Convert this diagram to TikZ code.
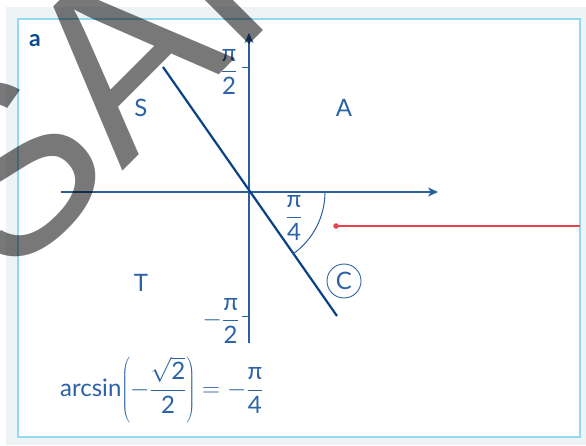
\documentclass[tikz,border=0pt]{standalone}
\usepackage{fontspec}
\setmainfont{Lato}
\newfontfamily\wmfont{Liberation Sans}
\usetikzlibrary{arrows.meta}
\definecolor{bggray}{HTML}{EEF3F6}
\definecolor{frameblue}{HTML}{93D8F5}
\definecolor{axisblue}{HTML}{2A5E9C}
\definecolor{linenavy}{HTML}{0B4283}
\definecolor{labelblue}{HTML}{2B63A6}
\definecolor{boldblue}{HTML}{0D4A8C}
\definecolor{dotred}{HTML}{E8434A}
\begin{document}
\begin{tikzpicture}[x=1pt,y=1pt,
  axis/.style={draw=axisblue, line width=1.1pt},
  axisarrow/.style={axis, -{Stealth[length=10pt,width=9pt,inset=3pt]}},
  tick/.style={draw=axisblue, line width=1pt},
  lbl/.style={text=labelblue, font=\fontsize{24}{28}\selectfont, inner sep=0pt},
  wm/.style={font=\wmfont\fontsize{240}{240}\selectfont, text=black, text opacity=0.53, inner sep=0pt}]
\useasboundingbox (0,0) rectangle (586,445);
% background and frame
\fill[bggray] (6,0) rectangle (586,438);
\draw[frameblue, line width=1.5pt, fill=white] (18,8) rectangle (580,426);
% axes
\coordinate (O) at (249,253);
\coordinate (xs) at (61,253);
\coordinate (xe) at (438,253);
\coordinate (ys) at (249,102);
\coordinate (ye) at (249,412);
\draw[axisarrow] (xs) -- (xe);
\draw[axisarrow] (ys) -- (ye);
% ticks
\coordinate (tpa) at (242,377); \coordinate (tpb) at (249,377);
\coordinate (tma) at (242,129); \coordinate (tmb) at (249,129);
\draw[tick] (tpa) -- (tpb);
\draw[tick] (tma) -- (tmb);
% tick labels
\node[lbl] (lpi2) at (229,373) {$\displaystyle\frac{\mbox{π}}{\mbox{2}}$};
\node[lbl] (lmpi2) at (221,124) {$\displaystyle-\frac{\mbox{π}}{\mbox{2}}$};
% main line
\coordinate (La) at (163,378);
\coordinate (Lb) at (337,129);
\draw[linenavy, line width=2.2pt] (La) -- (Lb);
% angle arc
\draw[axisblue, line width=1pt] (325,253) arc[start angle=0, end angle=-54.6, radius=76];
\node[lbl] (lpi4) at (294,227) {$\displaystyle\frac{\mbox{π}}{\mbox{4}}$};
% red pointer
\node[circle, fill=dotred, inner sep=0pt, minimum size=5.5pt] (dot) at (336,219) {};
\coordinate (redend) at (580,219);
\draw[dotred, line width=1.4pt] (dot.center) -- (redend);
% circled C
\node[lbl, circle, draw=labelblue, line width=0.9pt, minimum size=34pt] (circC) at (344,164) {C};
% quadrant labels
\node[lbl] (qS) at (141,337) {S};
\node[lbl] (qA) at (344,337) {A};
\node[lbl] (qT) at (141,162) {T};
\node[text=boldblue, font=\fontsize{23}{26}\selectfont\bfseries, inner sep=0pt] (tag) at (35,404) {a};
% formula
\node[lbl, anchor=west] (formula) at (60,55) {$\displaystyle\mbox{arcsin}\!\left(-\frac{\sqrt{\mbox{2}}}{\mbox{2}}\right) = -\frac{\mbox{π}}{\mbox{4}}$};
% watermark
\begin{scope}
\clip (0,0) rectangle (586,445);
\node[wm, rotate=45, anchor=base west] (wmark) at (9,160) {SAMPLE};
\end{scope}
\end{tikzpicture}
\end{document}
